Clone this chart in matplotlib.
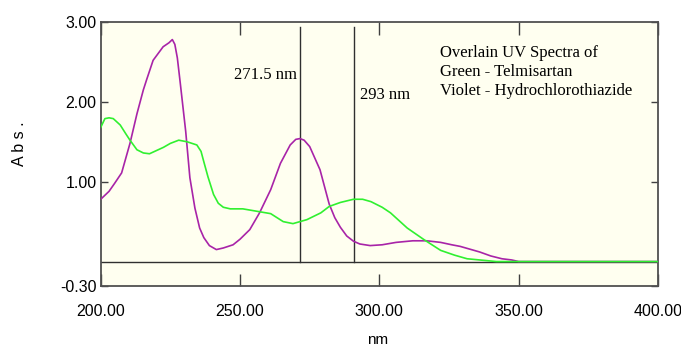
import matplotlib
matplotlib.use("Agg")
import matplotlib.pyplot as plt

# Hydrochlorothiazide (violet) spectrum
hctz_nm = [200, 203, 205, 207.5, 210.5, 213, 215.3, 216.5, 218.8, 222.4, 224.5,
           225.7, 226.6, 227.5, 228.5, 230.5, 232, 233.8, 235.5, 237, 239,
           241.5, 244, 247.5, 250, 253.5, 257, 261, 264.5, 268, 270, 271.5,
           273, 275, 278.7, 282, 284, 286, 288.3, 290.7, 293, 296.7, 301, 306,
           312, 317, 322, 326, 329, 333, 336, 340, 344, 347.5, 350, 400]
hctz_abs = [0.78, 0.88, 0.98, 1.11, 1.48, 1.85, 2.15, 2.28, 2.52, 2.69, 2.74,
            2.78, 2.72, 2.55, 2.25, 1.63, 1.05, 0.67, 0.42, 0.30, 0.20,
            0.15, 0.17, 0.21, 0.28, 0.40, 0.61, 0.90, 1.23, 1.46, 1.53, 1.54,
            1.52, 1.44, 1.15, 0.72, 0.55, 0.43, 0.32, 0.255, 0.22, 0.20, 0.21, 0.24,
            0.26, 0.26, 0.24, 0.21, 0.19, 0.15, 0.12, 0.07, 0.035, 0.02, 0.0, 0.0]

# Telmisartan (green) spectrum
telmi_nm = [200, 201.5, 203, 204.5, 207, 209, 210.5, 213, 215.3, 217.5, 220,
            222.5, 225, 228, 231, 234.5, 236, 237, 238.5, 240.5, 242.2, 244,
            246.5, 251, 256, 261, 265.5, 269, 274, 279, 282, 286, 290.7, 294,
            297, 301, 304, 310, 316, 322, 327, 331.5, 336, 342, 400]
telmi_abs = [1.68, 1.79, 1.80, 1.79, 1.71, 1.60, 1.52, 1.40, 1.36, 1.35, 1.39,
             1.43, 1.48, 1.52, 1.50, 1.46, 1.38, 1.25, 1.06, 0.84, 0.73, 0.68,
             0.66, 0.66, 0.63, 0.60, 0.50, 0.475, 0.525, 0.61, 0.69, 0.74, 0.78, 0.78,
             0.75, 0.68, 0.61, 0.42, 0.275, 0.14, 0.08, 0.035, 0.02, 0.0, 0.0]

# marker lines (drawn position) and their labels
marker_nm = [271.5, 291]
marker_labels = ["271.5 nm", "293 nm"]

xticks = [200, 250, 300, 350, 400]
yticks = [-0.30, 1.00, 2.00, 3.00]

sans = ["Liberation Sans", "DejaVu Sans"]
serif = ["Liberation Serif", "DejaVu Serif"]

fig = plt.figure(figsize=(6.81, 3.47), dpi=100)
ax = fig.add_axes([0.1479, 0.1772, 0.8183, 0.7594])
ax.set_facecolor("#fffff0")

ax.axhline(0, color="#303030", lw=1.0, zorder=1)
for m in marker_nm:
    ax.plot([m, m], [0.0, 2.94], color="#303030", lw=1.0, zorder=1)

ax.plot(hctz_nm, hctz_abs, color="#a824a8", lw=1.2, zorder=3)
ax.plot(telmi_nm, telmi_abs, color="#30f030", lw=1.2, zorder=4)

ax.set_xlim(200, 400)
ax.set_ylim(-0.30, 3.00)
ax.set_xticks(xticks)
ax.set_xticklabels(["%.2f" % v for v in xticks], family=sans, fontsize=11.5)
ax.set_yticks(yticks)
ax.set_yticklabels(["%.2f" % v for v in yticks], family=sans, fontsize=11.5)
ax.tick_params(axis="x", direction="in", length=9, width=1.0, color="#404040",
               top=True, pad=13)
ax.tick_params(axis="y", direction="in", length=5, width=1.0, color="#404040",
               right=True, pad=3)
for s in ax.spines.values():
    s.set_color("#505050")
    s.set_linewidth(1.3)

# axis titles placed in figure pixels
fig.text(378 / 681, 1 - 340 / 347, "nm", family=sans, fontsize=11,
         ha="center", va="center")
fig.text(20 / 681, 1 - 144 / 347, "A b s .", family=sans, fontsize=11.5,
         rotation=90, ha="center", va="center")

ax.text(270.3, 2.34, marker_labels[0], family=serif, fontsize=12,
        ha="right", va="center")
ax.text(293.0, 2.09, marker_labels[1], family=serif, fontsize=12,
        ha="left", va="center")
ax.text(321.8, 2.37, "Overlain UV Spectra of\nGreen - Telmisartan\nViolet - Hydrochlorothiazide",
        family=serif, fontsize=12, ha="left", va="center", linespacing=1.25)

fig.savefig("out.png", dpi=100)
